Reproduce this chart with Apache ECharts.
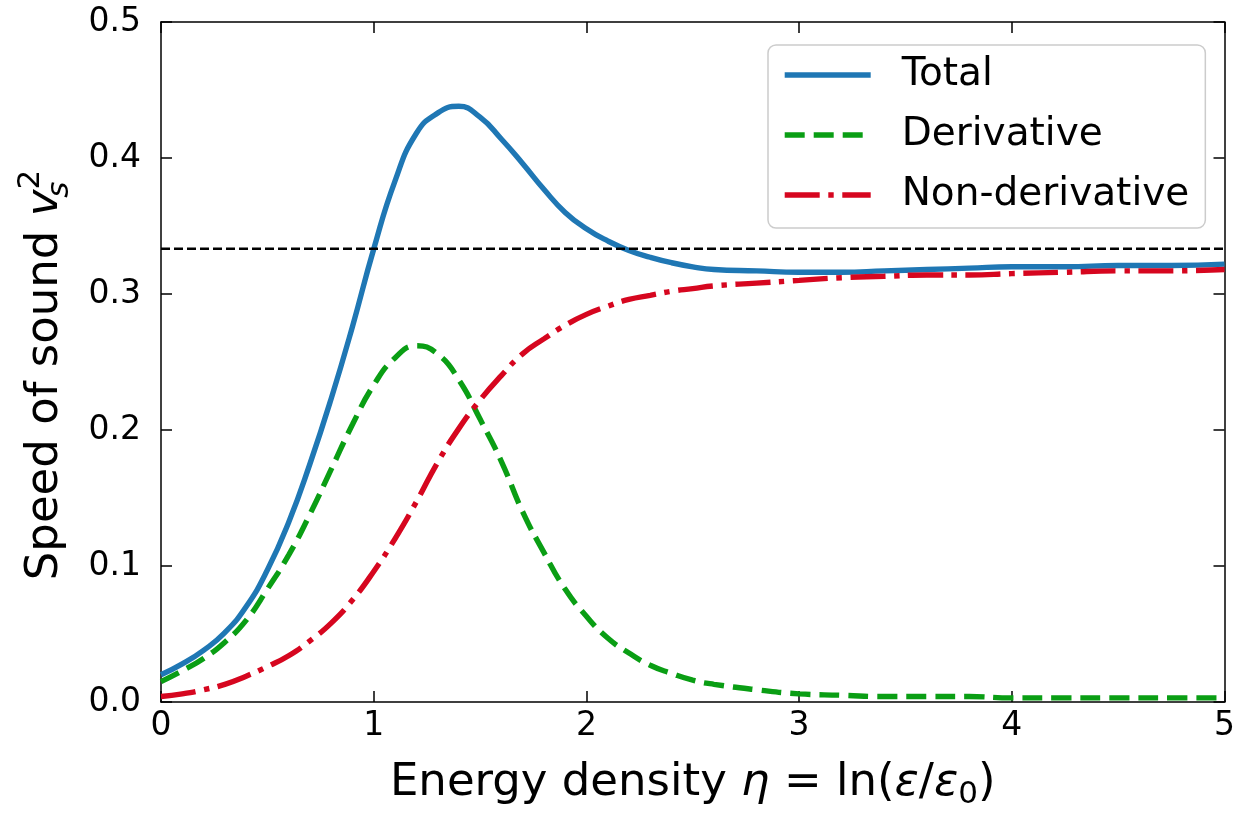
<!DOCTYPE html>
<html>
<head>
<meta charset="utf-8">
<script src="https://cdn.jsdelivr.net/npm/echarts@6/dist/echarts.min.js"></script>
<style>
  html, body { margin: 0; padding: 0; background: #fff; }
  #chart { width: 1238px; height: 815px; }
</style>
</head>
<body>
<div id="chart"></div>
<script>
  // energy density eta
  var eta = [0, 0.1, 0.2, 0.3, 0.4, 0.5, 0.6, 0.7, 0.8, 0.9, 1.0, 1.1, 1.2, 1.3, 1.4, 1.5, 1.6, 1.7, 1.8, 1.9,
    2.0, 2.1, 2.2, 2.3, 2.4, 2.5, 2.6, 2.8, 3.0, 3.2, 3.4, 3.6, 3.8, 4.0, 4.25, 4.5, 4.75, 5.0]
  var total = [0.020, 0.028, 0.038, 0.051, 0.070, 0.097, 0.132, 0.175, 0.223, 0.276, 0.333, 0.383, 0.418, 0.433, 0.438, 0.430, 0.414, 0.396, 0.377, 0.360,
    0.348, 0.339, 0.332, 0.327, 0.323, 0.320, 0.318, 0.317, 0.316, 0.316, 0.317, 0.318, 0.319, 0.320, 0.320, 0.321, 0.321, 0.322]
  var derivative = [0.015, 0.023, 0.032, 0.044, 0.060, 0.083, 0.108, 0.138, 0.171, 0.204, 0.233, 0.253, 0.262, 0.256, 0.237, 0.208, 0.177, 0.140, 0.110, 0.083,
    0.063, 0.047, 0.036, 0.027, 0.021, 0.016, 0.013, 0.009, 0.006, 0.005, 0.004, 0.004, 0.004, 0.003, 0.003, 0.003, 0.003, 0.003]
  var nonDerivative = [0.004, 0.006, 0.009, 0.013, 0.019, 0.026, 0.034, 0.045, 0.058, 0.075, 0.096, 0.120, 0.147, 0.176, 0.201, 0.222, 0.240, 0.256, 0.267, 0.277,
    0.285, 0.291, 0.296, 0.299, 0.302, 0.304, 0.306, 0.308, 0.310, 0.312, 0.313, 0.314, 0.314, 0.315, 0.316, 0.317, 0.317, 0.318]
  // conformal limit 1/3
  var refX = [0, 5]
  var refY = [1 / 3, 1 / 3]

  var font = 'DejaVu Sans'
  function pairs (xs, ys) {
    return xs.map(function (x, i) { return [x, ys[i]] })
  }

  var frameLine = { show: true, onZero: false, lineStyle: { color: '#000', width: 1.5 } }
  var tick = { show: true, inside: true, length: 11, lineStyle: { color: '#000', width: 1.5 } }

  var myChart = echarts.init(document.getElementById('chart'))
  var option = {
    animation: false,
    backgroundColor: '#fff',
    grid: { left: 161, right: 10, top: 22, bottom: 107 },
    legend: {
      orient: 'vertical',
      left: 768,
      top: 45,
      padding: [10, 16, 13, 14],
      itemWidth: 86,
      itemHeight: 16,
      itemGap: 20,
      borderColor: '#cccccc',
      borderWidth: 1.5,
      borderRadius: 8,
      backgroundColor: 'rgba(255,255,255,0.8)',
      itemStyle: { color: 'rgba(0,0,0,0)', borderWidth: 0, opacity: 0 },
      lineStyle: { width: 5.4 },
      data: ['Total', 'Derivative', 'Non-derivative'],
      textStyle: { fontFamily: font, fontSize: 39, color: '#000', lineHeight: 40, padding: [0, 0, 0, 26] }
    },
    xAxis: [
      {
        type: 'value', min: 0, max: 5, interval: 1, position: 'bottom',
        axisLine: frameLine, axisTick: tick, splitLine: { show: false },
        axisLabel: { fontFamily: font, fontSize: 33, color: '#000', margin: 8 },
        name: '{t|Energy density }{i|η}{t| = ln(}{i|ε}{t|/}{i|ε}{sub|0}{t|)}',
        nameLocation: 'middle',
        nameGap: 54,
        nameTextStyle: {
          rich: {
            t: { fontFamily: font, fontSize: 45, color: '#000', lineHeight: 54, verticalAlign: 'middle' },
            i: { fontFamily: font, fontSize: 45, fontStyle: 'italic', color: '#000', lineHeight: 54, verticalAlign: 'middle' },
            sub: { fontFamily: font, fontSize: 31, color: '#000', lineHeight: 54, verticalAlign: 'bottom' }
          }
        }
      },
      {
        type: 'value', min: 0, max: 5, interval: 1, position: 'top',
        axisLine: frameLine, axisTick: tick, axisLabel: { show: false }, splitLine: { show: false }
      }
    ],
    yAxis: [
      {
        type: 'value', min: 0, max: 0.5, interval: 0.1, position: 'left',
        axisLine: frameLine, axisTick: tick, splitLine: { show: false },
        axisLabel: {
          fontFamily: font, fontSize: 33, color: '#000', margin: 20,
          formatter: function (v) { return v.toFixed(1) }
        },
        name: '{t|Speed of sound }{i|v}{sub|s}{sup|2}',
        nameLocation: 'middle',
        nameGap: 86,
        nameTextStyle: {
          padding: [0, 26, 0, 0],
          rich: {
            t: { fontFamily: font, fontSize: 45, color: '#000', lineHeight: 60, verticalAlign: 'middle' },
            i: { fontFamily: font, fontSize: 45, fontStyle: 'italic', color: '#000', lineHeight: 60, verticalAlign: 'middle' },
            sub: { fontFamily: font, fontSize: 31, fontStyle: 'italic', color: '#000', lineHeight: 60, verticalAlign: 'bottom', width: 0.1 },
            sup: { fontFamily: font, fontSize: 31, color: '#000', lineHeight: 60, verticalAlign: 'top' }
          }
        }
      },
      {
        type: 'value', min: 0, max: 0.5, interval: 0.1, position: 'right',
        axisLine: frameLine, axisTick: tick, axisLabel: { show: false }, splitLine: { show: false }
      }
    ],
    series: [
      {
        name: 'Total',
        type: 'line',
        data: pairs(eta, total),
        smooth: true,
        symbol: 'none',
        lineStyle: { color: '#1f77b4', width: 5.4 },
        itemStyle: { color: '#1f77b4' }
      },
      {
        name: 'Derivative',
        type: 'line',
        data: pairs(eta, derivative),
        smooth: true,
        symbol: 'none',
        lineStyle: { color: '#0a9e14', width: 5.4, type: [20, 9] },
        itemStyle: { color: '#0a9e14' }
      },
      {
        name: 'Non-derivative',
        type: 'line',
        data: pairs(eta, nonDerivative),
        smooth: true,
        symbol: 'none',
        lineStyle: { color: '#d6061f', width: 5.4, type: [35, 8.6, 5.4, 8.6] },
        itemStyle: { color: '#d6061f' }
      },
      {
        name: 'limit',
        type: 'line',
        data: pairs(refX, refY),
        symbol: 'none',
        silent: true,
        lineStyle: { color: '#000', width: 2.5, type: [9, 4] }
      }
    ]
  }
  myChart.setOption(option)
</script>
</body>
</html>
